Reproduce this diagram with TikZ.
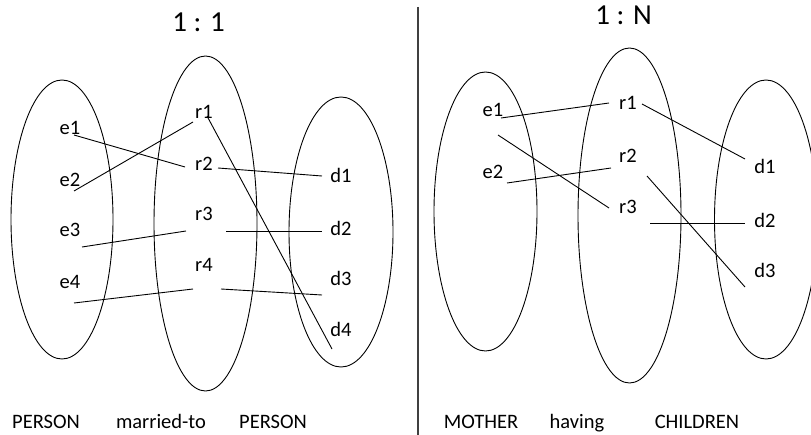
\documentclass[tikz,border=0pt]{standalone}
\usepackage{fontspec}
\setmainfont{Carlito}
\usetikzlibrary{shapes.geometric}
\begin{document}
\begin{tikzpicture}[x=1pt,y=-1pt,
  set/.style={draw, ellipse, line width=0.9pt, inner sep=0pt},
  lbl/.style={inner sep=0pt, font=\fontsize{20.5}{24}\selectfont},
  setname/.style={inner sep=0pt, anchor=base, font=\fontsize{20.5}{24}\selectfont},
  ttl/.style={inner sep=0pt, font=\fontsize{29}{34}\selectfont},
  link/.style={line width=0.9pt},
  divider/.style={draw=black!75, line width=2pt}]
\useasboundingbox (0,0) rectangle (811,435);

% ---------- left panel: 1 : 1 ----------
\node[ttl] (t1) at (198.5,22) {1 : 1};
\node[set, minimum width=102pt, minimum height=279pt] (P1) at (62,219.5) {};
\node[set, minimum width=103pt, minimum height=335pt] (M1) at (205.5,223.5) {};
\node[set, minimum width=104pt, minimum height=270pt] (P2) at (341,232) {};

\node[lbl] (le1) at (70,128) {e1};
\node[lbl] (le2) at (70,180) {e2};
\node[lbl] (le3) at (70,230) {e3};
\node[lbl] (le4) at (70,282) {e4};
\node[lbl] (lr1) at (204,112) {r1};
\node[lbl] (lr2) at (204,164) {r2};
\node[lbl] (lr3) at (204,214) {r3};
\node[lbl] (lr4) at (204,265) {r4};
\node[lbl] (ld1) at (341,175) {d1};
\node[lbl] (ld2) at (341,228) {d2};
\node[lbl] (ld3) at (341,278) {d3};
\node[lbl] (ld4) at (341,329) {d4};

\coordinate (a1) at (74,135);   \coordinate (b1) at (185,167);
\coordinate (a2) at (74,191);   \coordinate (b2) at (193,122);
\coordinate (a3) at (207,116);  \coordinate (b3) at (332,349);
\coordinate (a4) at (218,168);  \coordinate (b4) at (322,176);
\coordinate (a5) at (82,247);   \coordinate (b5) at (186,231);
\coordinate (a6) at (226,231);  \coordinate (b6) at (322,231);
\coordinate (a7) at (74,303);   \coordinate (b7) at (193,289);
\coordinate (a8) at (221,289);  \coordinate (b8) at (322,295);
\foreach \i in {1,...,8} {\draw[link] (a\i) -- (b\i);}

\node[setname] (n1) at (46,428) {PERSON};
\node[setname] (n2) at (161,428) {married-to};
\node[setname] (n3) at (273,428) {PERSON};

% ---------- divider ----------
\coordinate (dv1) at (418,7);
\coordinate (dv2) at (418,435);
\draw[divider] (dv1) -- (dv2);

% ---------- right panel: 1 : N ----------
\node[ttl] (t2) at (623.5,15) {1 : N};
\node[set, minimum width=103pt, minimum height=279pt] (Q1) at (485.5,211.5) {};
\node[set, minimum width=103pt, minimum height=335pt] (Q2) at (629.5,215.5) {};
\node[set, minimum width=103pt, minimum height=279pt] (Q3) at (766,219.5) {};

\node[lbl] (re1) at (493,110) {e1};
\node[lbl] (re2) at (493,172) {e2};
\node[lbl] (rr1) at (628,103) {r1};
\node[lbl] (rr2) at (628,156) {r2};
\node[lbl] (rr3) at (628,207) {r3};
\node[lbl] (rd1) at (765,166) {d1};
\node[lbl] (rd2) at (765,220) {d2};
\node[lbl] (rd3) at (765,270) {d3};

\coordinate (c1) at (501,118);  \coordinate (f1) at (609,103);
\coordinate (c2) at (498,135);  \coordinate (f2) at (609,208);
\coordinate (c3) at (507,183);  \coordinate (f3) at (611,168);
\coordinate (c4) at (642,104);  \coordinate (f4) at (745,159);
\coordinate (c5) at (647,176);  \coordinate (f5) at (745,287);
\coordinate (c6) at (650,223);  \coordinate (f6) at (745,223);
\foreach \i in {1,...,6} {\draw[link] (c\i) -- (f\i);}

\node[setname] (m1) at (481,428) {MOTHER};
\node[setname] (m2) at (577,428) {having};
\node[setname] (m3) at (697,428) {CHILDREN};
\end{tikzpicture}
\end{document}
